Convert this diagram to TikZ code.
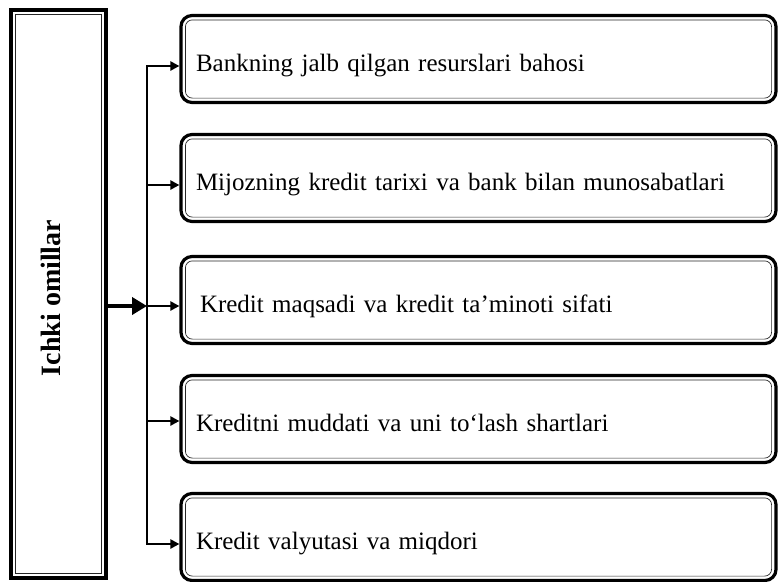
\documentclass[tikz,border=0pt]{standalone}
\usepackage{fontspec}
\setmainfont{Liberation Serif}
\usetikzlibrary{arrows.meta,calc}

\begin{document}
\begin{tikzpicture}[
	x=1pt, y=-1pt,
	factor/.style={
		rectangle, rounded corners=11pt,
		draw=black, line width=3.2pt,
		minimum width=595pt, minimum height=87pt,
		text width=565pt, align=left, inner sep=0pt,
		text height=24pt, text depth=0pt,
		font=\fontsize{25}{30}\selectfont
	},
	mainbox/.style={
		rectangle, draw=black, line width=3.2pt,
		minimum width=95pt, minimum height=568pt, inner sep=0pt,
		font=\fontsize{28}{32}\selectfont\bfseries
	},
	inline/.style={line width=0.7pt, black!85},
	arr/.style={-{Triangle[length=9pt,width=9pt]}, line width=2.8pt},
	bigarr/.style={-{Triangle[length=15pt,width=17pt]}, line width=4.5pt}
]
\useasboundingbox (0,0) rectangle (779,581);

% Left block
\node[mainbox] (lhs) at (58.5,294)
	{\rotatebox{90}{\raisebox{-1.5pt}[0pt][0pt]{Ichki omillar}\hspace*{8pt}}};
\draw[inline] ($(lhs.north west)+(6,6)$) rectangle ($(lhs.south east)+(-6,-6)$);

% Right column x=478.5
\node[factor] (b1) at (478.5, 59)   {Bankning jalb qilgan resurslari bahosi};
\node[factor] (b2) at (478.5, 178)  {Mijozning kredit tarixi va bank bilan munosabatlari};
\node[factor] (b3) at (478.5, 300)  {\hspace*{4pt}Kredit maqsadi va kredit ta'minoti sifati};
\node[factor] (b4) at (478.5, 419)  {Kreditni muddati va uni to‘lash shartlari};
\node[factor] (b5) at (478.5, 537)  {Kredit valyutasi va miqdori};

\foreach \n in {b1,b2,b3,b4,b5}
	\draw[inline, rounded corners=7pt]
		($(\n.north west)+(6,6)$) rectangle ($(\n.south east)+(-6,-6)$);

% Bus x=147
\coordinate (bus) at (147, 306);
\draw[bigarr] (lhs.east |- bus) -- (bus);

\draw[arr] (bus) |- ([yshift=-7pt]b1.west);
\draw[arr] (bus |- b2.west) ++(0,7) -- ([yshift=-7pt]b2.west);
\draw[arr] (bus) -- ([yshift=-6pt]b3.west);
\draw[arr] (bus |- b4.west) ++(0,2) -- ([yshift=-2pt]b4.west);
\draw[arr] (bus) |- ([yshift=-7pt]b5.west);

\end{tikzpicture}
\end{document}
